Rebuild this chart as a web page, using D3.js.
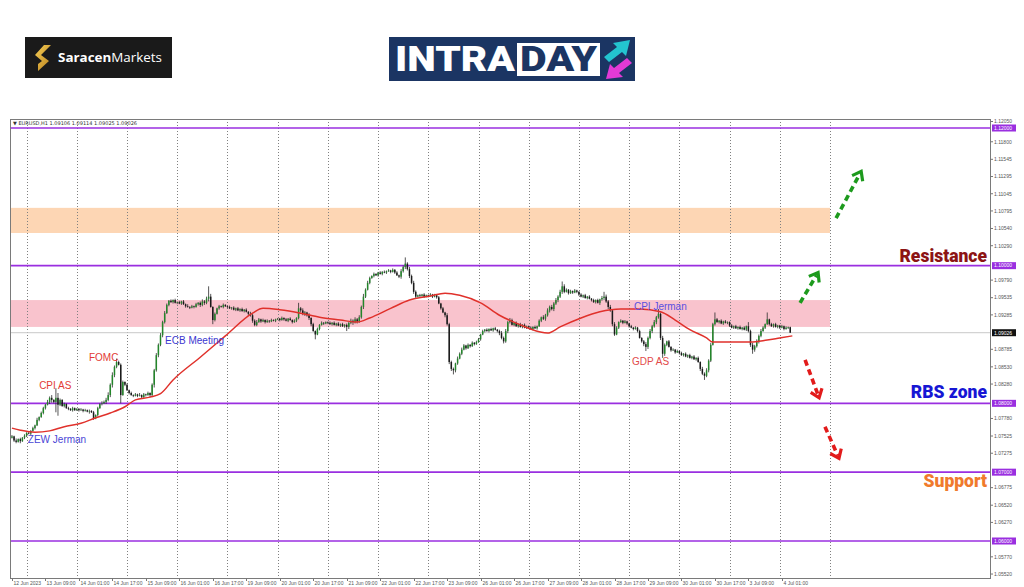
<!DOCTYPE html>
<html>
<head>
<meta charset="utf-8">
<title>EURUSD H1 intraday</title>
<script src="https://cdn.jsdelivr.net/npm/d3@7"></script>
<style>
  body { margin: 0; background: #fff; }
  svg { display: block; }
</style>
</head>
<body>
<script>

// ---- data ----

// hourly closes, price * 10000, one row per trading day (12 Jun 17:00 -> 4 Jul 05:00)
var closesByDay = [
  [10752,10746,10744,10748,10745,10750,10753],
  [10757,10756,10760,10764,10768,10776,10780,10786,10793,10798,10802,10808,10805,10802,10808,10798,10805,10796,10799,10793,10792,10790,10793,10790],
  [10792,10790,10791,10789,10790,10788,10789,10787,10778,10783,10793,10799,10800,10802,10805,10812,10827,10841,10853,10860,10856,10812,10831,10827],
  [10819,10815,10812,10811,10813,10811,10812,10809,10813,10812,10815,10812,10827,10848,10870,10885,10899,10918,10931,10943,10949,10947,10950,10946],
  [10947,10945,10948,10944,10941,10940,10939,10941,10940,10944,10946,10943,10948,10946,10952,10955,10940,10921,10930,10938,10941,10940,10943,10941],
  [10940,10938,10939,10936,10938,10935,10937,10934,10936,10933,10930,10928,10920,10914,10918,10922,10919,10921,10918,10920,10919,10921,10920,10922],
  [10923,10921,10924,10922,10920,10923,10921,10918,10920,10924,10938,10935,10930,10932,10928,10924,10915,10905,10900,10908,10914,10917,10916,10918],
  [10917,10915,10917,10914,10916,10913,10915,10912,10914,10911,10917,10920,10918,10922,10919,10925,10940,10955,10965,10975,10982,10985,10988,10986],
  [10990,10988,10991,10990,10992,10993,10991,10994,10990,10986,10984,10992,10998,11003,10995,10985,10975,10962,10955,10957,10956,10958,10955,10957],
  [10956,10958,10955,10957,10954,10945,10938,10932,10928,10915,10860,10850,10848,10858,10865,10872,10878,10884,10880,10885,10883,10888,10886,10889],
  [10893,10900,10905,10907,10905,10908,10906,10909,10907,10905,10902,10895,10890,10905,10918,10921,10914,10917,10912,10915,10911,10914,10910,10912],
  [10910,10908,10911,10909,10912,10920,10925,10923,10928,10935,10940,10937,10945,10950,10955,10962,10970,10962,10965,10960,10963,10961,10964,10962],
  [10958,10955,10957,10953,10955,10952,10950,10947,10950,10946,10951,10953,10955,10948,10940,10935,10915,10900,10910,10918,10920,10917,10919,10916],
  [10912,10910,10908,10910,10905,10895,10890,10886,10882,10895,10905,10912,10918,10925,10930,10895,10872,10885,10890,10882,10877,10878,10874,10876],
  [10873,10870,10872,10868,10870,10866,10868,10864,10866,10860,10850,10843,10840,10848,10862,10885,10915,10922,10918,10920,10916,10919,10917,10918],
  [10913,10910,10912,10909,10911,10908,10910,10907,10912,10905,10885,10878,10883,10890,10898,10905,10910,10915,10922,10915,10912,10915,10911,10913],
  [10910,10912,10908,10910,10910.6,10902.6]
];

// upper / lower wick length in pips for each bar, same rows as above
var upWicks = [
  "2131212",
  "121213122132412321212121",
  "112121212121323424232121",
  "212121312121223232321212",
  "121213121212323241212121",
  "121212121213223212121211",
  "112121212132321312121211",
  "121212121213232324232121",
  "121212121213232323212121",
  "121212121322213232121212",
  "212121212123232321212121",
  "121212132323232323212121",
  "121212121213232323212121",
  "121212123232323232121212",
  "121212121213232321212121",
  "121212121323232321212121",
  "121210"
];
var dnWicks = [
  "1221312",
  "212121212213423121212121",
  "121211312121213234321212",
  "121212121213242323212121",
  "212121212123232414212121",
  "212121212132322121212112",
  "121212121223232331212121",
  "212121212132423223212121",
  "212121212123232323212121",
  "212121213233432121212121",
  "121212121232323212121212",
  "212121223232323232121212",
  "212121212132323232121212",
  "212121232323232323212121",
  "212121212132323212121212",
  "212121212232323212121212",
  "212120"
];

// long wicks on news bars: [bar, high, low]
var spikes = [
  [21, 1.0822, 1.0787], [22, 1.0815, 1.0782], [50, 1.0865, null], [52, 1.0858, 1.0800],
  [94, 1.0970, null], [96, null, 1.0915], [137, 1.0946, null], [145, null, 1.0893],
  [160, null, 1.0905], [188, 1.1012, null], [211, null, 1.0842], [263, 1.0977, null],
  [283, 1.0962, null], [303, null, 1.0876], [309, 1.0937, null], [311, null, 1.0866],
  [331, null, 1.0834], [336, 1.0932, null], [352, 1.0918, null], [354, null, 1.0872],
  [361, 1.0932, null], [372, 1.09114, 1.09025]
];

var firstOpen = 1.0750;

// red moving average, [bar, price]
var maPoints = [
  [0,1.0764],[4,1.0761],[11,1.0758],[18,1.0760],[25,1.0766],[33,1.0771],[40,1.0779],
  [47,1.0786],[54,1.0795],[59,1.0805],[66,1.0809],[71,1.0814],[77,1.0834],[90,1.0867],
  [102,1.0898],[115,1.0931],[120,1.0938],[128,1.0936],[138,1.0931],[147,1.0925],
  [157,1.0921],[165,1.0918],[171,1.0924],[181,1.0938],[190,1.0950],[200,1.0956],
  [207,1.0960],[214,1.0957],[224,1.0946],[233,1.0928],[243,1.0914],[252,1.0904],
  [256,1.0902],[262,1.0911],[272,1.0924],[281,1.0933],[291,1.0937],[300,1.0937],
  [310,1.0933],[317,1.0921],[324,1.0907],[332,1.0895],[335,1.0889],[353,1.0889],
  [361,1.0892],[367,1.0895],[373,1.0898]
];

var levels = [1.12, 1.10, 1.08, 1.07, 1.06];
var levelLabels = ["1.12000", "1.10000", "1.08000", "1.07000", "1.06000"];
var lastPrice = 1.09026;
var zones = [[1.0911, 1.0950, "#f9c3cd"], [1.10475, 1.1084, "#fdd6b4"]];

var priceTicks = ["1.12050","1.11800","1.11545","1.11295","1.11045","1.10795","1.10540","1.10290",
  "1.09790","1.09535","1.09285","1.08785","1.08530","1.08280","1.07780","1.07525","1.07275",
  "1.06775","1.06520","1.06270","1.05770","1.05520"];

var timeLabels = ["12 Jun 2023","13 Jun 09:00","14 Jun 01:00","14 Jun 17:00","15 Jun 09:00",
  "16 Jun 01:00","16 Jun 17:00","19 Jun 09:00","20 Jun 01:00","20 Jun 17:00","21 Jun 09:00",
  "22 Jun 01:00","22 Jun 17:00","23 Jun 09:00","26 Jun 01:00","26 Jun 17:00","27 Jun 09:00",
  "28 Jun 01:00","28 Jun 17:00","29 Jun 09:00","30 Jun 01:00","30 Jun 17:00","3 Jul 09:00",
  "4 Jul 01:00"];

// day separators (bar index of 00:00), 13 Jun .. 5 Jul
var dayStarts = d3.range(7, 392, 24);

// event notes: [text, bar, price, colour]
var notes = [
  ["CPI AS", 13.0, 1.0821, "#e23a34"],
  ["FOMC", 36.8, 1.0862, "#e23a34"],
  ["ZEW Jerman", 7.6, 1.0743, "#4a46d6"],
  ["ECB Meeting", 73.2, 1.0886, "#3b37d0"],
  ["CPI Jerman", 297.3, 1.0935, "#5b4fe0"],
  ["GDP AS", 296.4, 1.0855, "#e24a4a"]
];

// big labels on the right: [text, price, colour]
var zoneLabels = [
  ["Resistance", 1.1006, "#8c1414"],
  ["RBS zone", 1.0808, "#1616d4"],
  ["Support", 1.0679, "#f07a2c"]
];

// dashed scenario arrows: [barFrom, priceFrom, barTo, priceTo, colour]
var arrows = [
  [376.7, 1.0946, 385.3, 1.0990, "#1d9a1d"],
  [393.9, 1.1069, 405.9, 1.1137, "#1d9a1d"],
  [379.1, 1.0863, 385.8, 1.0808, "#e21b1b"],
  [388.6, 1.0766, 395.3, 1.0720, "#e21b1b"]
];

// ---- layout ----
var W = 1024, H = 587;
var plotLeft = 10, plotRight = 990, plotTop = 119, plotBottom = 578;

var svg = d3.select("body").append("svg")
    .attr("width", W)
    .attr("height", H)
    .style("font-family", "'Liberation Sans', Arial, sans-serif");

svg.append("rect").attr("width", W).attr("height", H).attr("fill", "#fff");

var x = d3.scaleLinear().domain([7, 391]).range([26.6, 830]);
var y = d3.scaleLinear().domain([1.06, 1.12]).range([541, 128]);

// build OHLC bars
var closes = closesByDay.flat().map(function(v){ return v / 10000; });
var ups = upWicks.join("").split("").map(Number);
var dns = dnWicks.join("").split("").map(Number);
var prev = firstOpen;
var bars = closes.map(function(c, i){
  var o = prev; prev = c;
  return { i: i, o: o, c: c,
    h: Math.max(o, c) + ups[i] / 10000,
    l: Math.min(o, c) - dns[i] / 10000 };
});
spikes.forEach(function(s){
  var b = bars[s[0]];
  if (s[1] != null) b.h = s[1];
  if (s[2] != null) b.l = s[2];
});

var chart = svg.append("g");
svg.append("clipPath").attr("id", "plot")
  .append("rect").attr("x", plotLeft).attr("y", plotTop)
  .attr("width", plotRight - plotLeft).attr("height", plotBottom - plotTop);
var plot = chart.append("g").attr("clip-path", "url(#plot)");

// zones
plot.selectAll(".zone")
  .data(zones)
  .enter().append("rect")
  .attr("x", plotLeft)
  .attr("width", x(391) - plotLeft)
  .attr("y", function(d){ return y(d[1]); })
  .attr("height", function(d){ return y(d[0]) - y(d[1]); })
  .attr("fill", function(d){ return d[2]; });

// day separators
plot.selectAll(".grid")
  .data(dayStarts)
  .enter().append("line")
  .attr("x1", function(d){ return Math.round(x(d)) + 0.5; })
  .attr("x2", function(d){ return Math.round(x(d)) + 0.5; })
  .attr("y1", plotTop).attr("y2", plotBottom)
  .style("stroke", "#808080")
  .style("stroke-width", 1)
  .style("stroke-dasharray", "1,2");

// last price line
plot.append("line")
  .attr("x1", plotLeft).attr("x2", plotRight)
  .attr("y1", y(lastPrice)).attr("y2", y(lastPrice))
  .style("stroke", "#c8c8c8").style("stroke-width", 1);

// level lines
plot.selectAll(".level")
  .data(levels)
  .enter().append("line")
  .attr("x1", plotLeft).attr("x2", plotRight)
  .attr("y1", function(d){ return y(d); })
  .attr("y2", function(d){ return y(d); })
  .style("stroke", "#9a2fe0")
  .style("stroke-width", 1.6);

// candles
var candle = plot.selectAll(".bar")
  .data(bars)
  .enter().append("g");

candle.append("line")
  .attr("x1", function(d){ return x(d.i); })
  .attr("x2", function(d){ return x(d.i); })
  .attr("y1", function(d){ return y(d.h); })
  .attr("y2", function(d){ return y(d.l); })
  .style("stroke", "#2b2b2b")
  .style("stroke-width", 0.8);

candle.append("rect")
  .attr("x", function(d){ return x(d.i) - 0.75; })
  .attr("width", 1.5)
  .attr("y", function(d){ return y(Math.max(d.o, d.c)); })
  .attr("height", function(d){ return Math.max(0.7, Math.abs(y(d.o) - y(d.c))); })
  .attr("fill", function(d){ return d.c >= d.o ? "#23862a" : "#1a1a1a"; });

// moving average
var maLine = d3.line()
  .x(function(d){ return x(d[0]); })
  .y(function(d){ return y(d[1]); })
  .curve(d3.curveMonotoneX);

plot.append("path")
  .datum(maPoints)
  .attr("d", maLine)
  .attr("fill", "none")
  .style("stroke", "#e0312b")
  .style("stroke-width", 1.5);

// frame
chart.append("rect")
  .attr("x", plotLeft + 0.5).attr("y", plotTop + 0.5)
  .attr("width", plotRight - plotLeft).attr("height", plotBottom - plotTop)
  .attr("fill", "none")
  .style("stroke", "#7a7a7a");

// header
chart.append("text")
  .attr("x", 13).attr("y", 125)
  .style("font-size", "5px")
  .style("font-family", "'DejaVu Sans', sans-serif")
  .attr("fill", "#333")
  .text("\u25BC EURUSD,H1  1.09106 1.09114 1.09025 1.09026");

// price axis
var axisG = chart.append("g");
axisG.selectAll(".ptick")
  .data(priceTicks)
  .enter().append("g")
  .each(function(d){
    var g = d3.select(this), yy = y(+d);
    if (yy < plotTop) return;
    if (+d > 1.1201) yy = 121.5;   // squeezed above the 1.12000 tag
    g.append("line").attr("x1", plotRight).attr("x2", plotRight + 3)
      .attr("y1", yy).attr("y2", yy).style("stroke", "#777");
    g.append("text").attr("x", plotRight + 4).attr("y", yy + 1.8)
      .style("font-size", "5px").attr("fill", "#555").text(d);
  });

axisG.selectAll(".plabel")
  .data(levels)
  .enter().append("g")
  .each(function(d, i){
    var g = d3.select(this), yy = y(d);
    g.append("rect").attr("x", plotRight + 2).attr("y", yy - 3.5)
      .attr("width", 24).attr("height", 7).attr("fill", "#9a2fe0");
    g.append("text").attr("x", plotRight + 4).attr("y", yy + 1.8)
      .style("font-size", "5px").attr("fill", "#fff").text(levelLabels[i]);
  });

axisG.append("rect").attr("x", plotRight + 2).attr("y", y(lastPrice) - 3.5)
  .attr("width", 24).attr("height", 7).attr("fill", "#111");
axisG.append("text").attr("x", plotRight + 4).attr("y", y(lastPrice) + 1.8)
  .style("font-size", "5px").attr("fill", "#fff").text(lastPrice.toFixed(5));

// time axis
var timeG = chart.append("g");
timeLabels.forEach(function(t, k){
  var xx = Math.round(x(k * 16)) + 0.5;
  timeG.append("line").attr("x1", xx).attr("x2", xx)
    .attr("y1", plotBottom).attr("y2", plotBottom + 3).style("stroke", "#777");
  timeG.append("text").attr("x", xx + 1).attr("y", plotBottom + 6.5)
    .style("font-size", "5px").attr("fill", "#555").text(t);
});

// event notes
chart.selectAll(".note")
  .data(notes)
  .enter().append("text")
  .attr("x", function(d){ return x(d[1]); })
  .attr("y", function(d){ return y(d[2]); })
  .style("font-size", "10px")
  .attr("fill", function(d){ return d[3]; })
  .text(function(d){ return d[0]; });

chart.selectAll(".zlabel")
  .data(zoneLabels)
  .enter().append("text")
  .attr("x", 987)
  .attr("y", function(d){ return y(d[1]); })
  .attr("text-anchor", "end")
  .style("font-family", "Roboto, 'Liberation Sans', sans-serif")
  .style("font-weight", 900)
  .style("font-size", "17.5px")
  .attr("fill", function(d){ return d[2]; })
  .text(function(d){ return d[0]; });

// dashed arrows
arrows.forEach(function(a){
  var x0 = x(a[0]), y0 = y(a[1]), x1 = x(a[2]), y1 = y(a[3]);
  var dx = x1 - x0, dy = y1 - y0, len = Math.sqrt(dx*dx + dy*dy);
  var ux = dx / len, uy = dy / len, nx = -uy, ny = ux;
  chart.append("line")
    .attr("x1", x0).attr("y1", y0)
    .attr("x2", x1 - ux * 3).attr("y2", y1 - uy * 3)
    .style("stroke", a[4]).style("stroke-width", 3.6)
    .style("stroke-dasharray", "6,4");
  var L = 8, Wd = 6;
  chart.append("path")
    .attr("d", "M" + (x1 - ux*L + nx*Wd) + "," + (y1 - uy*L + ny*Wd) +
               "L" + x1 + "," + y1 +
               "L" + (x1 - ux*L - nx*Wd) + "," + (y1 - uy*L - ny*Wd))
    .attr("fill", "none")
    .style("stroke", a[4]).style("stroke-width", 3.2)
    .style("stroke-linejoin", "miter");
});

// ---- logos ----
var sar = svg.append("g");
sar.append("rect").attr("x", 25).attr("y", 37).attr("width", 147).attr("height", 41).attr("fill", "#1a1a1a");
var gold = svg.append("defs").append("linearGradient").attr("id", "gold")
  .attr("x1", 0).attr("y1", 0).attr("x2", 1).attr("y2", 1);
gold.append("stop").attr("offset", 0).attr("stop-color", "#f7cf57");
gold.append("stop").attr("offset", 1).attr("stop-color", "#b8801c");
sar.append("path")
  .attr("d", "M44,45 L51,45 L41,55 L49,61 L38,71 L38,64 L42,61 L35,55 Z")
  .attr("fill", "url(#gold)");
var st = sar.append("text").attr("x", 58).attr("y", 62)
  .attr("textLength", 104).attr("lengthAdjust", "spacingAndGlyphs")
  .style("font-family", "'Open Sans', sans-serif").style("font-size", "13px").attr("fill", "#fff");
st.append("tspan").style("font-weight", 700).text("Saracen");
st.append("tspan").style("font-weight", 400).text("Markets");

var intra = svg.append("g");
intra.append("rect").attr("x", 389).attr("y", 37).attr("width", 246).attr("height", 44).attr("fill", "#1b3563");
intra.append("text").attr("x", 395).attr("y", 71)
  .style("font-family", "Roboto, sans-serif").style("font-weight", 900).style("font-size", "35px")
  .attr("textLength", 120).attr("lengthAdjust", "spacingAndGlyphs")
  .attr("fill", "#fff").text("INTRA");
intra.append("rect").attr("x", 517).attr("y", 43).attr("width", 83).attr("height", 33).attr("fill", "#fff");
intra.append("text").attr("x", 520).attr("y", 71)
  .style("font-family", "Roboto, sans-serif").style("font-weight", 900).style("font-size", "35px")
  .attr("textLength", 77).attr("lengthAdjust", "spacingAndGlyphs")
  .attr("fill", "#1b3563").text("DAY");
intra.append("path")
  .attr("d", "M604,57 L617,47 L613,43 L630,40 L626,56 L622,52 L609,62 Z")
  .attr("fill", "#23c4cf");
intra.append("path")
  .attr("d", "M632,63 L619,73 L623,77 L606,79 L610,64 L614,68 L627,58 Z")
  .attr("fill", "#e33ad6");

</script>
</body>
</html>
